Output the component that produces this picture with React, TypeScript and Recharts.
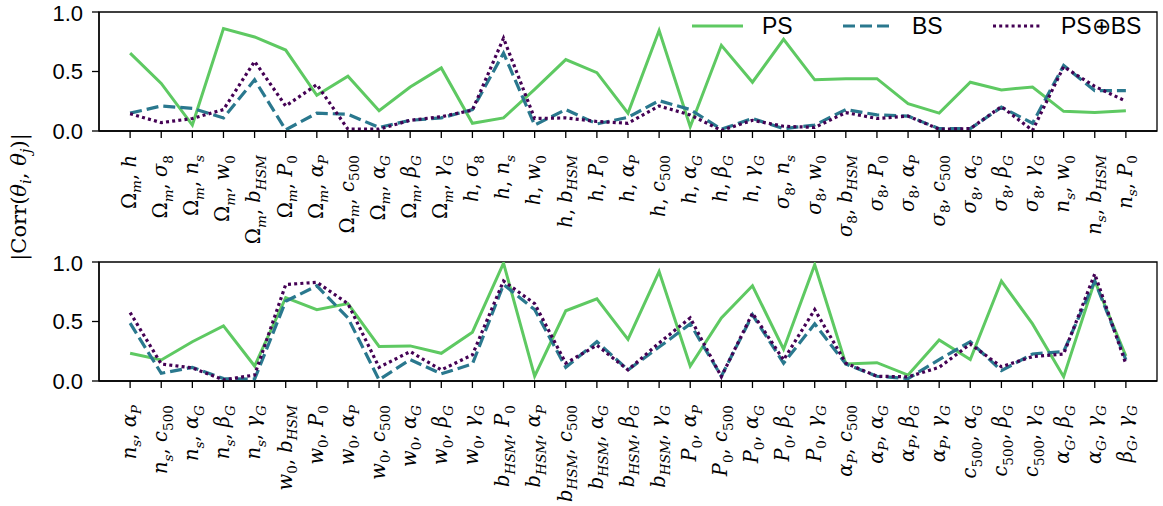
import React from "react";
import { LineChart, Line, XAxis, YAxis, ReferenceArea } from "recharts";

const topLabels = [
  "Ω_m, h", "Ω_m, σ_8", "Ω_m, n_s", "Ω_m, w_0", "Ω_m, b_HSM", "Ω_m, P_0", "Ω_m, α_P", "Ω_m, c_500",
  "Ω_m, α_G", "Ω_m, β_G", "Ω_m, γ_G", "h, σ_8", "h, n_s", "h, w_0", "h, b_HSM", "h, P_0", "h, α_P",
  "h, c_500", "h, α_G", "h, β_G", "h, γ_G", "σ_8, n_s", "σ_8, w_0", "σ_8, b_HSM", "σ_8, P_0",
  "σ_8, α_P", "σ_8, c_500", "σ_8, α_G", "σ_8, β_G", "σ_8, γ_G", "n_s, w_0", "n_s, b_HSM", "n_s, P_0",
];
const bottomLabels = [
  "n_s, α_P", "n_s, c_500", "n_s, α_G", "n_s, β_G", "n_s, γ_G", "w_0, b_HSM", "w_0, P_0", "w_0, α_P",
  "w_0, c_500", "w_0, α_G", "w_0, β_G", "w_0, γ_G", "b_HSM, P_0", "b_HSM, α_P", "b_HSM, c_500",
  "b_HSM, α_G", "b_HSM, β_G", "b_HSM, γ_G", "P_0, α_P", "P_0, c_500", "P_0, α_G", "P_0, β_G",
  "P_0, γ_G", "α_P, c_500", "α_P, α_G", "α_P, β_G", "α_P, γ_G", "c_500, α_G", "c_500, β_G",
  "c_500, γ_G", "α_G, β_G", "α_G, γ_G", "β_G, γ_G",
];

const topPS = [0.655, 0.40, 0.05, 0.86, 0.79, 0.68, 0.30, 0.46, 0.17, 0.37, 0.53, 0.065, 0.11, 0.35, 0.60, 0.49, 0.15, 0.845, 0.036, 0.72, 0.41, 0.77, 0.43, 0.44, 0.44, 0.23, 0.15, 0.41, 0.345, 0.37, 0.165, 0.155, 0.17];
const topBS = [0.15, 0.21, 0.19, 0.11, 0.43, 0.01, 0.15, 0.14, 0.03, 0.09, 0.11, 0.18, 0.655, 0.05, 0.18, 0.06, 0.115, 0.255, 0.18, 0.015, 0.105, 0.02, 0.05, 0.18, 0.135, 0.125, 0.02, 0.02, 0.20, 0.065, 0.55, 0.34, 0.34];
const topBoth = [0.145, 0.07, 0.105, 0.18, 0.585, 0.21, 0.39, 0.015, 0.015, 0.09, 0.12, 0.175, 0.78, 0.105, 0.11, 0.08, 0.065, 0.21, 0.135, 0.005, 0.09, 0.04, 0.03, 0.155, 0.105, 0.125, 0.015, 0.02, 0.205, 0.005, 0.54, 0.375, 0.25];

const bottomPS = [0.233, 0.177, 0.33, 0.463, 0.126, 0.70, 0.60, 0.65, 0.29, 0.295, 0.233, 0.41, 0.99, 0.04, 0.59, 0.69, 0.35, 0.92, 0.126, 0.53, 0.80, 0.267, 0.977, 0.143, 0.154, 0.05, 0.345, 0.18, 0.84, 0.48, 0.036, 0.84, 0.21];
const bottomBS = [0.486, 0.065, 0.115, 0.02, 0.015, 0.67, 0.80, 0.53, 0.01, 0.18, 0.06, 0.143, 0.81, 0.60, 0.115, 0.33, 0.093, 0.285, 0.48, 0.04, 0.556, 0.15, 0.48, 0.143, 0.04, 0.02, 0.18, 0.33, 0.087, 0.227, 0.247, 0.84, 0.177];
const bottomBoth = [0.575, 0.143, 0.11, 0.01, 0.05, 0.81, 0.83, 0.65, 0.115, 0.247, 0.093, 0.22, 0.84, 0.65, 0.15, 0.30, 0.093, 0.32, 0.53, 0.036, 0.57, 0.177, 0.60, 0.15, 0.04, 0.035, 0.115, 0.31, 0.12, 0.205, 0.227, 0.90, 0.143];

const yTicks = [0, 0.5, 1.0];
const seriesNames = ["PS", "BS", "PS⊕BS"];

const COL_PS = "#5ec962";
const COL_BS = "#2a788e";
const COL_BOTH = "#440154";
const MATH_FONT = "'DejaVu Serif', serif";
const SANS = "'Liberation Sans', Arial, sans-serif";
const FS = 19.5;

const isUpright = (s: string) => /^[0-9Ω]+$/.test(s);

function mathSpans(label: string, fs: number) {
  const out: any[] = [];
  const parts = label.split(", ");
  const subFs = fs * 0.7;
  const shift = fs * 0.28;
  parts.forEach((p, pi) => {
    const [base, sub] = p.split("_");
    out.push(
      <tspan key={`b${pi}`} fontStyle={isUpright(base) ? "normal" : "italic"}>{base}</tspan>
    );
    if (sub) {
      out.push(
        <tspan key={`s${pi}`} fontSize={subFs} dy={shift} fontStyle={isUpright(sub) ? "normal" : "italic"}>{sub}</tspan>
      );
    }
    if (pi < parts.length - 1) {
      out.push(
        <tspan key={`c${pi}`} fontStyle="normal" dy={sub ? -shift : 0}>{",\u00a0"}</tspan>
      );
    }
  });
  return out;
}

const MathTick = (props: any) => {
  const { x, y, payload, labels } = props;
  const label = labels[payload.value];
  if (!label) return null;
  return (
    <g transform={`translate(${x + FS * 0.3}, ${y}) rotate(-90)`}>
      <text x={0} y={0} textAnchor="end" fontFamily={MATH_FONT} fontSize={FS} fill="#000">
        {mathSpans(label, FS)}
      </text>
    </g>
  );
};

type PanelProps = {
  labels: string[];
  ps: number[];
  bs: number[];
  both: number[];
  height: number;
  axisHeight: number;
  bottomMargin: number;
};

const Panel = ({ labels, ps, bs, both, height, axisHeight, bottomMargin }: PanelProps) => {
  const data = labels.map((l, i) => ({ i, label: l, ps: ps[i], bs: bs[i], both: both[i] }));
  const n = labels.length;
  return (
    <LineChart width={1163} height={height} data={data} margin={{ top: 12, right: 6, bottom: bottomMargin, left: 0 }}>
      <XAxis
        dataKey="i"
        type="number"
        domain={[-1, n]}
        ticks={labels.map((_, i) => i)}
        interval={0}
        allowDataOverflow
        height={axisHeight}
        tickSize={7}
        tickMargin={17}
        axisLine={{ stroke: "#000", strokeWidth: 1.3 }}
        tickLine={{ stroke: "#000", strokeWidth: 1.3 }}
        tick={(p: any) => <MathTick {...p} labels={labels} />}
      />
      <YAxis
        type="number"
        domain={[0, 1]}
        ticks={yTicks}
        allowDataOverflow
        width={99}
        tickSize={7}
        tickMargin={9}
        tickFormatter={(v: number) => v.toFixed(1)}
        axisLine={{ stroke: "#000", strokeWidth: 1.3 }}
        tickLine={{ stroke: "#000", strokeWidth: 1.3 }}
        tick={{ fontSize: 22, fill: "#000", fontFamily: SANS }}
      />
      <ReferenceArea x1={-1} x2={n} y1={0} y2={1} fill="none" stroke="#000" strokeWidth={1.3} ifOverflow="visible" />
      <Line type="linear" dataKey="ps" stroke={COL_PS} strokeWidth={3} dot={false} isAnimationActive={false} />
      <Line type="linear" dataKey="bs" stroke={COL_BS} strokeWidth={3.2} strokeDasharray="12 5" dot={false} isAnimationActive={false} />
      <Line type="linear" dataKey="both" stroke={COL_BOTH} strokeWidth={3.2} strokeDasharray="3 3.2" dot={false} isAnimationActive={false} />
    </LineChart>
  );
};

const LegendOverlay = () => {
  const items = [
    { name: seriesNames[0], color: COL_PS, dash: undefined, w: 3, x1: 692, x2: 743, tx: 762 },
    { name: seriesNames[1], color: COL_BS, dash: "12 5", w: 3.2, x1: 843, x2: 892, tx: 912 },
    { name: seriesNames[2], color: COL_BOTH, dash: "3 3.2", w: 3.2, x1: 993, x2: 1040, tx: 1061 },
  ];
  return (
    <g>
      {items.map((it) => (
        <g key={it.name}>
          <line x1={it.x1} x2={it.x2} y1={26} y2={26} stroke={it.color} strokeWidth={it.w} strokeDasharray={it.dash} />
          <text x={it.tx} y={26} dy="0.36em" fontFamily={SANS} fontSize={23} fill="#000">{it.name}</text>
        </g>
      ))}
    </g>
  );
};

export default function App() {
  return (
    <div style={{ position: "absolute", left: 0, top: 0, width: 1163, height: 506, background: "#fff" }}>
      <div style={{ position: "absolute", left: 0, top: 0 }}>
        <Panel labels={topLabels} ps={topPS} bs={topBS} both={topBoth} height={270} axisHeight={119} bottomMargin={20} />
      </div>
      <div style={{ position: "absolute", left: 0, top: 250 }}>
        <Panel labels={bottomLabels} ps={bottomPS} bs={bottomBS} both={bottomBoth} height={256} axisHeight={125} bottomMargin={0} />
      </div>
      <svg width={1163} height={506} style={{ position: "absolute", left: 0, top: 0, pointerEvents: "none" }}>
        <LegendOverlay />
        <g transform="translate(26, 197) rotate(-90)">
          <text x={0} y={0} textAnchor="middle" fontFamily={MATH_FONT} fontSize={21} fill="#000">
            <tspan>|Corr(</tspan>
            <tspan fontStyle="italic">θ</tspan>
            <tspan fontStyle="italic" fontSize={15} dy={5}>i</tspan>
            <tspan dy={-5}>,&#160;</tspan>
            <tspan fontStyle="italic">θ</tspan>
            <tspan fontStyle="italic" fontSize={15} dy={5}>j</tspan>
            <tspan dy={-5}>)|</tspan>
          </text>
        </g>
      </svg>
    </div>
  );
}
